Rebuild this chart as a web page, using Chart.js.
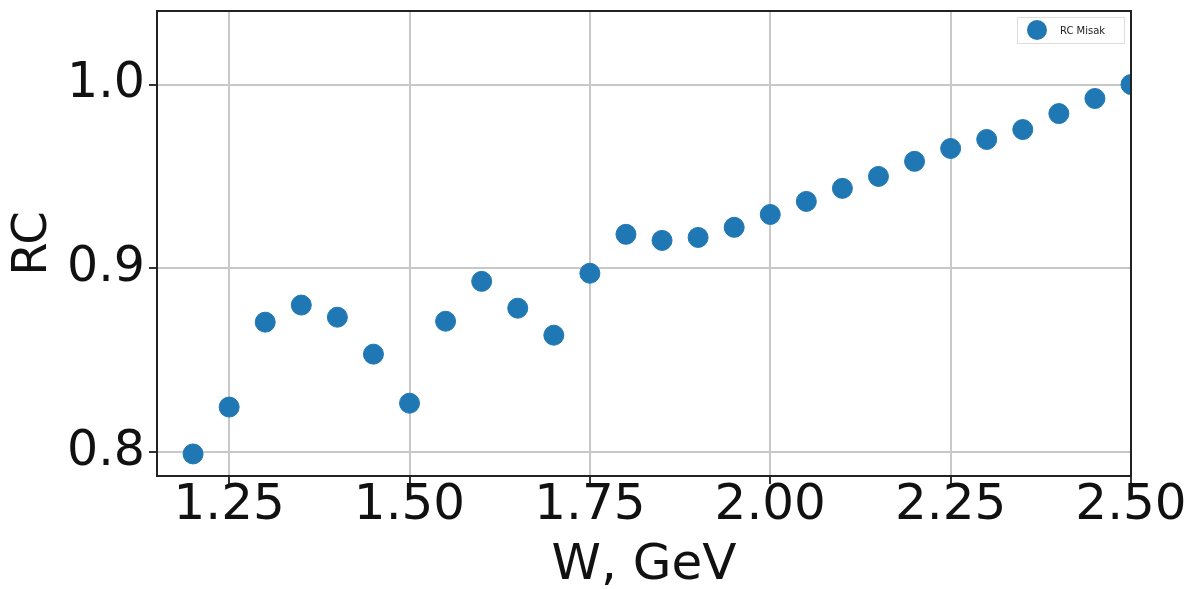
<!DOCTYPE html>
<html>
<head>
<meta charset="utf-8">
<script src="https://cdn.jsdelivr.net/npm/chart.js@4.4.0/dist/chart.umd.min.js"></script>
<style>
  body { margin: 0; background: #fff; }
  #wrap { width: 1194px; height: 589px; }
</style>
</head>
<body>
<div id="wrap"><canvas id="c" width="1194" height="589"></canvas></div>
<script>
// W values (GeV) and RC values
const wValues = [1.20, 1.25, 1.30, 1.35, 1.40, 1.45, 1.50, 1.55, 1.60, 1.65, 1.70, 1.75, 1.80, 1.85,
                 1.90, 1.95, 2.00, 2.05, 2.10, 2.15, 2.20, 2.25, 2.30, 2.35, 2.40, 2.45, 2.50];
const rcValues = [0.799, 0.8245, 0.8707, 0.880, 0.8734, 0.8533, 0.8266, 0.8712, 0.8929, 0.8783, 0.8636, 0.8973, 0.9185, 0.9152,
                  0.9168, 0.9223, 0.9293, 0.9364, 0.9435, 0.950, 0.9582, 0.9652, 0.9701, 0.9755, 0.9842, 0.9924, 1.000];
const xTicks = [1.25, 1.50, 1.75, 2.00, 2.25, 2.50];
const yTicks = [0.8, 0.9, 1.0];
const seriesName = 'RC Misak';

const points = wValues.map((w, i) => ({ x: w, y: rcValues[i] }));

// matplotlib-like frame around the plot area
const frame = {
    id: 'frame',
    afterDraw(chart) {
        const a = chart.chartArea, ctx = chart.ctx;
        ctx.save();
        ctx.strokeStyle = '#222';
        ctx.lineWidth = 2;
        ctx.strokeRect(a.left, a.top, a.right - a.left, a.bottom - a.top);
        ctx.restore();
    }
};

// small legend box in the top right corner
const legendBox = {
    id: 'legendBox',
    afterDraw(chart) {
        const a = chart.chartArea, ctx = chart.ctx;
        const w = 107, h = 26;
        const x = a.right - 7 - w, y = a.top + 6;
        ctx.save();
        ctx.fillStyle = 'rgba(255,255,255,0.8)';
        ctx.strokeStyle = '#ddd';
        ctx.lineWidth = 1;
        ctx.fillRect(x, y, w, h);
        ctx.strokeRect(x + 0.5, y + 0.5, w, h);
        ctx.fillStyle = '#1f77b4';
        ctx.beginPath();
        ctx.arc(x + 20, y + h / 2, 10, 0, Math.PI * 2);
        ctx.fill();
        ctx.fillStyle = '#222';
        ctx.font = '10px "DejaVu Sans"';
        ctx.textBaseline = 'middle';
        ctx.fillText(seriesName, x + 43, y + h / 2 + 1);
        ctx.restore();
    }
};

new Chart(document.getElementById('c'), {
    type: 'scatter',
    data: {
        datasets: [{
            label: seriesName,
            data: points,
            backgroundColor: '#1f77b4',
            borderColor: '#1f77b4',
            pointRadius: 10,
            pointHoverRadius: 10
        }]
    },
    options: {
        responsive: false,
        animation: false,
        layout: { padding: { left: 0, top: 11, right: 63, bottom: 0 } },
        plugins: {
            legend: { display: false },
            tooltip: { enabled: false }
        },
        scales: {
            x: {
                type: 'linear',
                min: 1.15,
                max: 2.5,
                afterBuildTicks: s => { s.ticks = xTicks.map(v => ({ value: v })); },
                afterFit: s => { s.height = 113; s.paddingLeft = 0; s.paddingRight = 0; },
                ticks: {
                    font: { family: 'DejaVu Sans', size: 50 },
                    color: '#111',
                    padding: -8,
                    maxRotation: 0,
                    autoSkip: false,
                    callback: v => v.toFixed(2)
                },
                grid: { color: '#c8c8c8', lineWidth: 2, tickLength: 8, tickColor: '#333' },
                border: { display: false },
                title: {
                    display: true,
                    text: 'W, GeV',
                    font: { family: 'DejaVu Sans', size: 50 },
                    color: '#111',
                    padding: { top: 0, bottom: -7 }
                }
            },
            y: {
                type: 'linear',
                min: 0.787,
                max: 1.04,
                afterBuildTicks: s => { s.ticks = yTicks.map(v => ({ value: v })); },
                afterFit: s => { s.width = 157; s.paddingTop = 0; s.paddingBottom = 0; },
                ticks: {
                    font: { family: 'DejaVu Sans', size: 49 },
                    color: '#111',
                    padding: 4,
                    autoSkip: false,
                    callback: v => v.toFixed(1)
                },
                grid: { color: '#c8c8c8', lineWidth: 2, tickLength: 8, tickColor: '#333' },
                border: { display: false },
                title: {
                    display: true,
                    text: 'RC',
                    font: { family: 'DejaVu Sans', size: 48 },
                    color: '#111',
                    padding: { top: 5, bottom: 0 }
                }
            }
        }
    },
    plugins: [frame, legendBox]
});
</script>
</body>
</html>
